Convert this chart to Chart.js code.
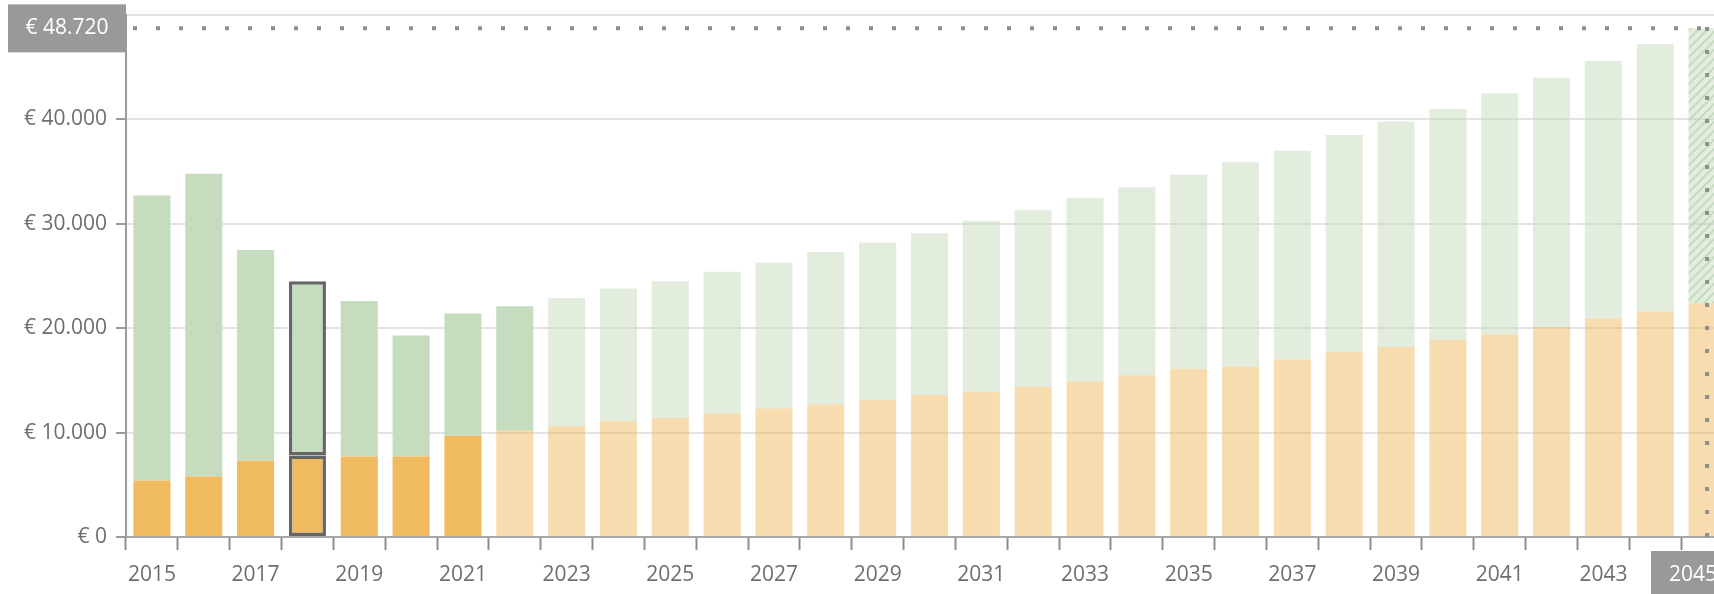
<!DOCTYPE html>
<html>
<head>
<meta charset="utf-8">
<script src="https://cdn.jsdelivr.net/npm/chart.js@4.4.1/dist/chart.umd.min.js"></script>
<style>
  html, body { margin: 0; padding: 0; overflow: hidden; background: #fff; width: 1714px; height: 594px; }
  #wrap { width: 1740px; height: 594px; }
</style>
</head>
<body>
<div id="wrap"><canvas id="c" width="1740" height="594"></canvas></div>
<script>
// ---- data ----
const years = [2015,2016,2017,2018,2019,2020,2021,2022,2023,2024,2025,2026,2027,2028,2029,2030,
               2031,2032,2033,2034,2035,2036,2037,2038,2039,2040,2041,2042,2043,2044,2045];
const eigenDeel = [5400,5800,7300,7800,7700,7700,9700,10200,10600,11100,11400,11800,12300,12700,13100,13600,
                   13900,14400,14900,15500,16100,16300,17000,17700,18200,18900,19400,20100,20900,21600,22400];
const overigDeel = [27300,29000,20200,16700,14900,11600,11700,11900,12300,12700,13100,13600,14000,14600,15100,15500,
                    16400,16900,17600,18000,18600,19600,20000,20800,21600,22100,23100,23900,24700,25600,26320];
const yTicks = [0,10000,20000,30000,40000,50000];
const lastActualEigen = 2021;   // solid orange up to this year
const lastActualOverig = 2022;  // solid green up to this year
const selectedYear = 2018;      // outlined bar
const focusYear = 2045;         // crosshair / hatched bar

// ---- styling ----
const FONT = "'Open Sans', 'Noto Sans', sans-serif";
const ORANGE = 'rgb(240,186,96)';
const ORANGE_LIGHT = 'rgba(240,186,96,0.5)';
const GREEN = 'rgb(197,220,190)';
const GREEN_LIGHT = 'rgba(197,220,190,0.5)';

function euro(v) {
  return '€ ' + String(Math.round(v)).replace(/\B(?=(\d{3})+(?!\d))/g, '.');
}

function hatch() {
  const p = document.createElement('canvas');
  p.width = 9; p.height = 9;
  const g = p.getContext('2d');
  g.fillStyle = GREEN_LIGHT;
  g.fillRect(0, 0, 9, 9);
  g.strokeStyle = 'rgba(175,205,165,0.55)';
  g.lineWidth = 2;
  g.beginPath();
  g.moveTo(-1, 10); g.lineTo(10, -1);
  g.moveTo(-1, 1); g.lineTo(1, -1);
  g.moveTo(8, 10); g.lineTo(10, 8);
  g.stroke();
  return document.getElementById('c').getContext('2d').createPattern(p, 'repeat');
}
const hatchPattern = hatch();

const selIdx = years.indexOf(selectedYear);
const focusIdx = years.indexOf(focusYear);

const eigenColors = years.map(y => y <= lastActualEigen ? ORANGE : ORANGE_LIGHT);
const overigColors = years.map((y, i) => i === focusIdx ? hatchPattern : (y <= lastActualOverig ? GREEN : GREEN_LIGHT));
const borderW = years.map((y, i) => i === selIdx ? 3.5 : 0);

const focusPlugin = {
  id: 'focus',
  afterDraw(chart) {
    const ctx = chart.ctx;
    const xs = chart.scales.x, ys = chart.scales.y;
    const area = chart.chartArea;
    const total = chart.data.datasets.reduce((s, d) => s + d.data[focusIdx], 0);
    const py = ys.getPixelForValue(total);
    const px = xs.getPixelForValue(focusIdx);
    ctx.save();
    // dotted lines
    ctx.strokeStyle = '#8e8e8e';
    ctx.lineWidth = 4;
    ctx.setLineDash([4, 19]);
    ctx.beginPath();
    ctx.moveTo(area.left + 7, py);
    ctx.lineTo(px, py);
    ctx.stroke();
    ctx.beginPath();
    ctx.moveTo(px, area.bottom);
    ctx.lineTo(px, area.top);
    ctx.stroke();
    ctx.setLineDash([]);
    // y value box
    ctx.font = '21px ' + FONT;
    ctx.textBaseline = 'middle';
    ctx.textAlign = 'center';
    const boxH = 48;
    const yl = 8, yr = area.left;
    ctx.fillStyle = '#999999';
    ctx.fillRect(yl, py - boxH / 2, yr - yl, boxH);
    ctx.fillStyle = '#ffffff';
    ctx.fillText(euro(total), (yl + yr) / 2, py);
    // x value box
    const label = String(focusYear);
    const tw = ctx.measureText(label).width;
    const bw = tw + 36;
    const xr = area.right + 2;
    const xl = xr - bw;
    const cy = area.bottom + 38;
    ctx.fillStyle = '#999999';
    ctx.fillRect(xl, cy - boxH / 2, bw, boxH);
    ctx.fillStyle = '#ffffff';
    ctx.fillText(label, xl + bw / 2, cy);
    ctx.restore();
  }
};

new Chart(document.getElementById('c'), {
  type: 'bar',
  data: {
    labels: years.map(String),
    datasets: [
      { label: 'eigen', data: eigenDeel, backgroundColor: eigenColors,
        borderColor: '#666666', borderWidth: borderW, borderSkipped: false,
        barPercentage: 0.715, categoryPercentage: 1 },
      { label: 'overig', data: overigDeel, backgroundColor: overigColors,
        borderColor: '#666666', borderWidth: borderW, borderSkipped: false,
        barPercentage: 0.715, categoryPercentage: 1 }
    ]
  },
  options: {
    responsive: false,
    animation: false,
    events: [],
    layout: { padding: { top: 15, right: 7, left: 0, bottom: 0 } },
    plugins: { legend: { display: false }, tooltip: { enabled: false } },
    scales: {
      x: {
        stacked: true,
        offset: true,
        grid: { display: true, drawOnChartArea: false, offset: true, tickLength: 13, tickColor: '#8c8c8c', tickWidth: 2 },
        border: { display: true, color: '#a8a8a8', width: 2 },
        ticks: {
          autoSkip: false, maxRotation: 0, minRotation: 0, padding: 12,
          color: '#6e6e6e', font: { family: FONT, size: 21 },
          callback: (v, i) => (i % 2 === 0 && i !== focusIdx) ? String(years[i]) : ''
        },
        afterFit: s => { s.height = 57; s.paddingLeft = 0; s.paddingRight = 0; }
      },
      y: {
        stacked: true,
        min: yTicks[0], max: yTicks[yTicks.length - 1],
        afterBuildTicks: s => { s.ticks = yTicks.map(v => ({ value: v })); },
        grid: { color: '#e3e3e3', lineWidth: 2, tickLength: 10, tickColor: '#9a9a9a', tickWidth: 2 },
        border: { display: true, color: '#9a9a9a', width: 2 },
        ticks: {
          padding: 9, color: '#6e6e6e', font: { family: FONT, size: 21 },
          callback: v => v === yTicks[yTicks.length - 1] ? '' : euro(v)
        },
        afterFit: s => { s.width = 126; s.paddingTop = 0; s.paddingBottom = 0; }
      }
    }
  },
  plugins: [focusPlugin]
});
</script>
</body>
</html>
